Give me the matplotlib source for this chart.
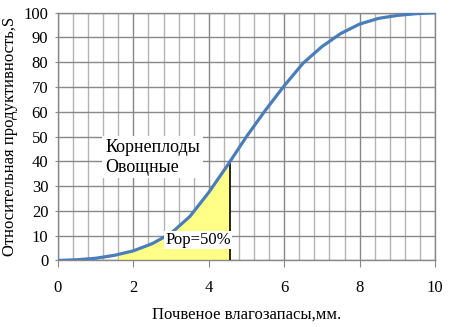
import numpy as np
import matplotlib
matplotlib.use("Agg")
import matplotlib.pyplot as plt
from matplotlib.ticker import MultipleLocator

# Curve (soil moisture vs relative productivity)
moisture = [0, 0.5, 1, 1.5, 2, 2.5, 3, 3.5, 4, 4.5, 5, 5.5, 6, 6.5, 7, 7.5, 8, 8.5, 9, 9.5, 10]
productivity = [0, 0.3, 0.9, 2.1, 3.9, 6.8, 11.0, 17.8, 27.5, 38.5, 50.0, 60.6, 70.5, 79.6, 86.3, 91.6, 95.4, 97.7, 98.9, 99.6, 100]

# Shaded region (yellow) under the curve
fill_x = [1.6, 2, 2.5, 3, 3.5, 4, 4.5, 4.56]
fill_y = [2.4, 3.9, 6.8, 11.0, 17.8, 27.5, 38.5, 39.7]
cut_x = 4.56
cut_y = 39.7

x_ticks = [0, 2, 4, 6, 8, 10]
y_ticks = [0, 10, 20, 30, 40, 50, 60, 70, 80, 90, 100]

plt.rcParams['font.family'] = ['Liberation Serif', 'DejaVu Serif']

fig = plt.figure(figsize=(4.58, 3.27), dpi=100)
ax = fig.add_axes([0.1266, 0.2034, 0.8232, 0.7578])

ax.set_xlim(0, 10)
ax.set_ylim(0, 100)

# Grid: light minor verticals, darker majors
ax.xaxis.set_minor_locator(MultipleLocator(0.4))
ax.set_xticks(x_ticks)
ax.set_yticks(y_ticks)
ax.grid(True, which='minor', axis='x', color='#b4b4b4', linewidth=1.0)
ax.grid(True, which='major', axis='x', color='#888888', linewidth=1.0)
ax.grid(True, which='major', axis='y', color='#888888', linewidth=1.0)
ax.set_axisbelow(True)

for s in ax.spines.values():
    s.set_color('#888888')
    s.set_linewidth(1.0)

ax.tick_params(axis='x', which='major', direction='out', length=5, color='#888888',
               pad=9, labelsize=12)
ax.tick_params(axis='x', which='minor', length=0)
ax.tick_params(axis='y', direction='out', length=2, color='#888888', pad=5, labelsize=12)

ax.fill_between(fill_x, 0, fill_y, color='#ffff88', zorder=2, linewidth=0)
ax.plot([cut_x, cut_x], [0, cut_y], color='black', linewidth=1.2, zorder=3)
ax.plot(moisture, productivity, color='#4a7ebb', linewidth=2.3, zorder=4,
        solid_capstyle='round')

ax.text(1.25, 49.0, "Корнеплоды\nОвощные", fontsize=13, va='top', ha='left',
        linespacing=1.2, zorder=5,
        bbox=dict(facecolor='white', edgecolor='none', pad=2.0))
ax.text(3.72, 8.3, "Рор=50%", fontsize=12, va='center', ha='center', zorder=5,
        bbox=dict(facecolor='white', edgecolor='none', pad=1.0))

ax.set_xlabel("Почвеное влагозапасы,мм.", fontsize=12, labelpad=8)
ax.set_ylabel("Относительная продуктивность,S", fontsize=12, labelpad=4)

fig.savefig("out.png", dpi=100)
